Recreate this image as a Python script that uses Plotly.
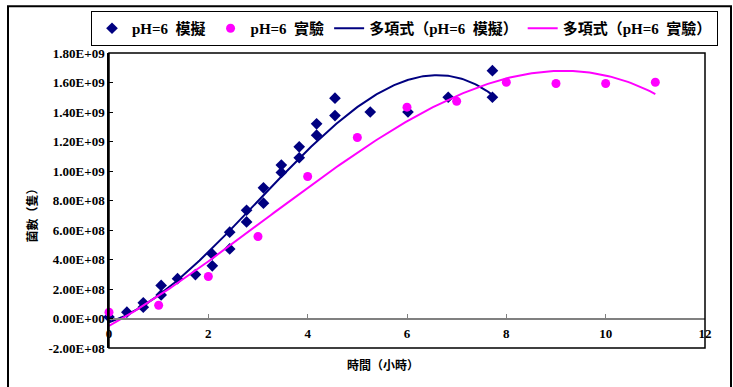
import numpy as np
import plotly.graph_objects as go

# pH=6 simulated growth (hours, cell count)
sim_hours = [0.0, 0.36, 0.69, 0.69, 1.05, 1.05, 1.38, 1.74, 2.08, 2.08,
             2.43, 2.43, 2.77, 2.77, 3.11, 3.11, 3.47, 3.47, 3.83, 3.83,
             4.18, 4.18, 4.55, 4.55, 5.26, 6.02, 6.83, 7.72, 7.72]
sim_counts = [1.0e7, 4.3e7, 1.06e8, 7.7e7, 2.24e8, 1.60e8, 2.70e8, 2.98e8, 4.36e8, 3.57e8,
              5.85e8, 4.72e8, 7.34e8, 6.55e8, 8.86e8, 7.82e8, 1.04e9, 9.90e8, 1.164e9, 1.09e9,
              1.32e9, 1.243e9, 1.494e9, 1.376e9, 1.40e9, 1.40e9, 1.50e9, 1.68e9, 1.50e9]

# pH=6 experimental growth
exp_hours = [0, 1, 2, 3, 4, 5, 6, 7, 8, 9, 10, 11]
exp_counts = [4.3e7, 9.0e7, 2.85e8, 5.56e8, 9.63e8, 1.227e9, 1.433e9, 1.473e9,
              1.602e9, 1.593e9, 1.593e9, 1.602e9]

x_ticks = [0, 2, 4, 6, 8, 10, 12]
y_ticks = [-2.0e8, 0.0, 2.0e8, 4.0e8, 6.0e8, 8.0e8, 1.0e9, 1.2e9, 1.4e9, 1.6e9, 1.8e9]
y_tick_text = [f"{v:.2E}" for v in y_ticks]

NAVY = "#000080"
MAGENTA = "#FF00FF"
SERIF = "Liberation Serif, Times New Roman, Noto Sans CJK TC, serif"
SP = "\u00a0\u00a0"

W, H = 733, 387
L, R, T, B = 109, 28, 52, 39
PW, PH = W - L - R, H - T - B


def px_x(p):
    return (p - L) / PW


def px_y(p):
    return (H - B - p) / PH


def cubic_trend(xs, ys, n=200):
    coef = np.polyfit(xs, ys, 3)
    xf = np.linspace(min(xs), max(xs), n)
    return xf, np.polyval(coef, xf)


sim_fx, sim_fy = cubic_trend(sim_hours, sim_counts)
exp_fx, exp_fy = cubic_trend(exp_hours, exp_counts)

fig = go.Figure()
fig.add_trace(go.Scatter(x=sim_hours, y=sim_counts, mode="markers", name=f"pH=6{SP}模擬",
                         marker=dict(symbol="diamond", size=9, color=NAVY),
                         cliponaxis=False))
fig.add_trace(go.Scatter(x=exp_hours, y=exp_counts, mode="markers", name=f"pH=6{SP}實驗",
                         marker=dict(symbol="circle", size=9, color=MAGENTA),
                         cliponaxis=False))
fig.add_trace(go.Scatter(x=sim_fx, y=sim_fy, mode="lines", name=f"多項式（pH=6{SP}模擬）",
                         line=dict(color=NAVY, width=2)))
fig.add_trace(go.Scatter(x=exp_fx, y=exp_fy, mode="lines", name=f"多項式（pH=6{SP}實驗）",
                         line=dict(color=MAGENTA, width=2)))

y_lo, y_hi = -2.0e8, 1.8e9
zero_pos = (0 - y_lo) / (y_hi - y_lo)

tick_font = dict(family=SERIF, size=13, color="black", weight="bold")

fig.update_layout(
    width=W, height=H,
    margin=dict(l=L, r=R, t=T, b=B),
    paper_bgcolor="white", plot_bgcolor="white",
    showlegend=True,
    legend=dict(orientation="h", x=px_x(91), y=px_y(11), xanchor="left", yanchor="top",
                bordercolor="black", borderwidth=1, bgcolor="white",
                font=dict(family=SERIF, size=15, color="black", weight="bold"),
                itemwidth=30, tracegroupgap=0),
    xaxis=dict(range=[0, 12], tickvals=x_ticks, ticktext=[str(v) for v in x_ticks],
               showgrid=False, zeroline=False, showline=True, linecolor="#808080",
               linewidth=1.5, ticks="inside", ticklen=4, tickcolor="#808080",
               anchor="free", position=zero_pos, tickfont=tick_font,
               ticklabelstandoff=3),
    yaxis=dict(range=[y_lo, y_hi], tickvals=y_ticks, ticktext=y_tick_text,
               showgrid=False, zeroline=False, showline=True, linecolor="black",
               linewidth=1.5, ticks="inside", ticklen=4, tickcolor="black",
               tickfont=tick_font),
    shapes=[
        dict(type="rect", xref="x domain", yref="y domain", x0=0, x1=1, y0=0, y1=1,
             line=dict(color="black", width=1.5), layer="above"),
        dict(type="rect", xref="paper", yref="paper",
             x0=px_x(8), x1=px_x(731), y0=px_y(400), y1=px_y(5),
             line=dict(color="black", width=2), layer="above"),
    ],
    annotations=[
        dict(text="時間（小時）", xref="paper", yref="paper", x=px_x(383), y=px_y(366),
             showarrow=False, xanchor="center", yanchor="middle",
             font=dict(family=SERIF, size=12, color="black", weight="bold")),
        dict(text="菌數（隻）", xref="paper", yref="paper", x=px_x(32), y=px_y(212),
             showarrow=False, xanchor="center", yanchor="middle", textangle=-90,
             font=dict(family=SERIF, size=12, color="black", weight="bold")),
    ],
)

fig.write_html("out.html")
